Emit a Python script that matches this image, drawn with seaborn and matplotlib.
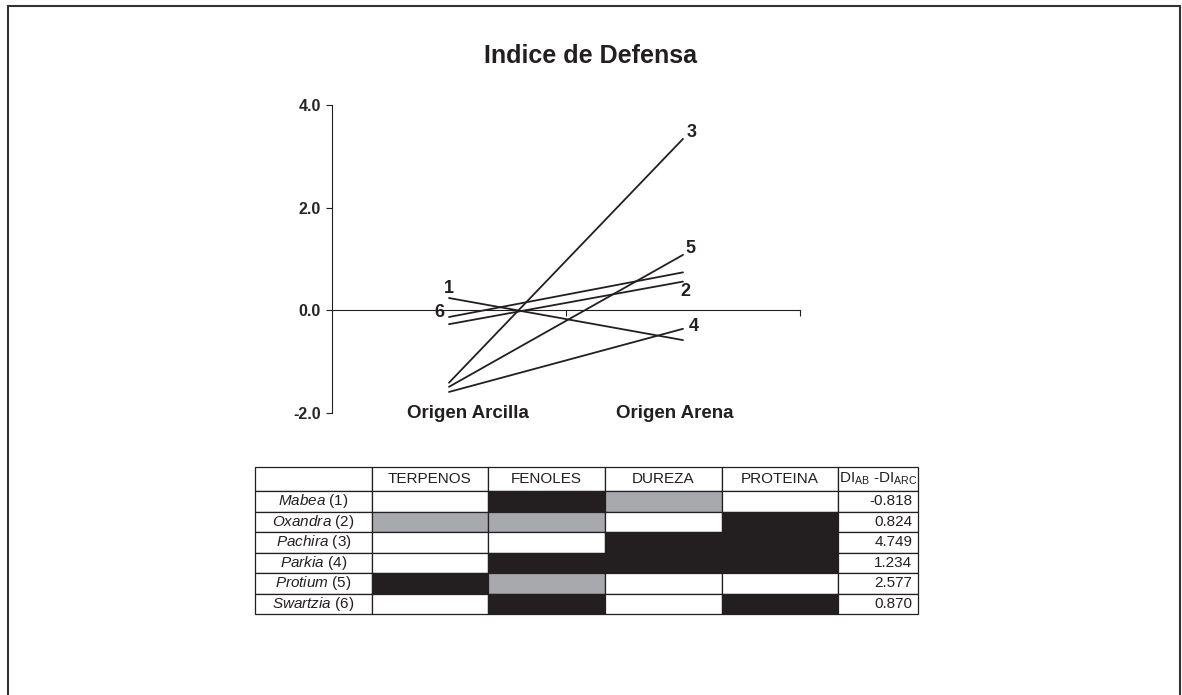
import pandas as pd
import matplotlib
matplotlib.use("Agg")
import matplotlib.pyplot as plt
from matplotlib.patches import Rectangle
from matplotlib.table import Table
import seaborn as sns

# data
especies = ['Mabea', 'Oxandra', 'Pachira', 'Parkia', 'Protium', 'Swartzia']
numeros = ['1', '2', '3', '4', '5', '6']
origenes = ['Origen Arcilla', 'Origen Arena']
di_arcilla = [0.24, -0.27, -1.41, -1.59, -1.49, -0.13]
di_arena = [-0.58, 0.56, 3.34, -0.36, 1.08, 0.74]

compuestos = ['TERPENOS', 'FENOLES', 'DUREZA', 'PROTEINA']
# k = black, g = grey, w = white
terpenos = ['w', 'g', 'w', 'w', 'k', 'w']
fenoles = ['k', 'g', 'w', 'k', 'g', 'k']
dureza = ['g', 'w', 'k', 'k', 'w', 'w']
proteina = ['w', 'k', 'k', 'k', 'w', 'k']
di_diff = ['-0.818', '0.824', '4.749', '1.234', '2.577', '0.870']

INK = '#231f20'
colores = {'k': INK, 'g': '#a7a9ac', 'w': 'white'}

sns.set_theme(style='ticks')
plt.rcParams['font.family'] = ['Liberation Sans', 'DejaVu Sans']
plt.rcParams['mathtext.fontset'] = 'custom'
plt.rcParams['mathtext.rm'] = 'Liberation Sans'
plt.rcParams['mathtext.it'] = 'Liberation Sans:italic'
plt.rcParams['text.color'] = INK

# long-form table for the lines
df = pd.DataFrame({
    'especie': numeros * 2,
    'pos': [0] * len(numeros) + [1] * len(numeros),
    'di': di_arcilla + di_arena,
})

W, H = 1182, 695
fig = plt.figure(figsize=(W / 100, H / 100), dpi=100)

# frame around the figure
fig.patches.append(Rectangle((8 / W, -0.05), (1180 - 8) / W, 1.05 - 6 / H,
                             transform=fig.transFigure, fill=False,
                             edgecolor='#333333', lw=1.5))

fig.text(591 / W, 1 - 56 / H, 'Indice de Defensa', ha='center', va='center',
         fontsize=18, fontweight='bold')

ax = fig.add_axes([332 / W, 1 - 413 / H, 468 / W, 308 / H])
sns.lineplot(data=df, x='pos', y='di', units='especie', estimator=None,
             color=INK, lw=1.3, ax=ax, legend=False)
ax.set_xlim(-0.5, 1.5)
ax.set_ylim(-2, 4)
ax.set_xlabel('')
ax.set_ylabel('')
ax.spines['top'].set_visible(False)
ax.spines['right'].set_visible(False)
ax.spines['bottom'].set_position(('data', 0))
for s in ['left', 'bottom']:
    ax.spines[s].set_color(INK)
    ax.spines[s].set_linewidth(0.8)
ax.set_yticks([-2, 0, 2, 4])
ax.set_yticklabels([f'{v:.1f}' for v in [-2, 0, 2, 4]], fontweight='bold', fontsize=11.5)
ax.set_xticks([0.5, 1.5])
ax.set_xticklabels([])
ax.tick_params(axis='both', direction='out', length=4, width=0.8, color=INK, pad=4)

# category names at the bottom of the plot
label_x = [0.08, 0.965]
for x, name in zip(label_x, origenes):
    ax.text(x, -2, name, ha='center', va='center', fontsize=13.5, fontweight='bold')

# species numbers next to line ends (offsets in points)
offsets = {'1': (0, 0, 7), '6': (0, -7, 3.5), '3': (1, 6, 4.5),
           '5': (1, 5, 4.5), '2': (1, 2, -7), '4': (1, 8, 2)}
for i, n in enumerate(numeros):
    side, dx, dy = offsets[n]
    y = di_arcilla[i] if side == 0 else di_arena[i]
    ax.annotate(n, xy=(side, y), xytext=(dx, dy), textcoords='offset points',
                ha='center', va='center', fontsize=13, fontweight='bold')

# table
tax = fig.add_axes([255 / W, 1 - 614 / H, 663 / W, 147 / H])
tax.axis('off')
col_w = [117, 116, 117, 117, 116, 80]
head_h, row_h = 24, 20.5
tbl = Table(tax, bbox=[0, 0, 1, 1])
header = [''] + compuestos + [r'DI$_{\rm AB}$ -DI$_{\rm ARC}$']
for c, txt in enumerate(header):
    cell = tbl.add_cell(0, c, col_w[c], head_h, text=txt, loc='center',
                        facecolor='white', edgecolor=INK)
columnas = [terpenos, fenoles, dureza, proteina]
for r in range(len(especies)):
    tbl.add_cell(r + 1, 0, col_w[0], row_h,
                 text=r'$\it{' + especies[r] + '}$ (' + numeros[r] + ')',
                 loc='center', facecolor='white', edgecolor=INK)
    for c, col in enumerate(columnas):
        tbl.add_cell(r + 1, c + 1, col_w[c + 1], row_h, text='',
                     facecolor=colores[col[r]], edgecolor=INK)
    cell = tbl.add_cell(r + 1, 5, col_w[5], row_h, text=di_diff[r], loc='right',
                        facecolor='white', edgecolor=INK)
    cell.PAD = 0.07
tbl.auto_set_font_size(False)
tbl.set_fontsize(11)
for cell in tbl.get_celld().values():
    cell.set_linewidth(0.9)
    cell.get_text().set_color(INK)
tax.add_table(tbl)

fig.savefig('out.png', dpi=100)
